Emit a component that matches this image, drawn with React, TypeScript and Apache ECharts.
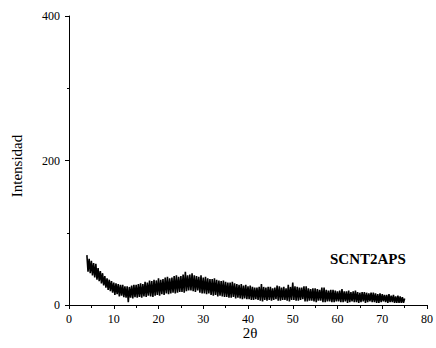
import React, { useEffect, useRef } from "react";
import * as echarts from "echarts";

const xTicks = [0, 10, 20, 30, 40, 50, 60, 70, 80];
const yTicks = [0, 200, 400];
const sampleLabel = "SCNT2APS";
const xTitle = "2θ";
const yTitle = "Intensidad";

// scan: 2θ from 4° to 75° in 0.25° steps
const scanStart = 4;
const scanStep = 0.25;

// one row per degree (x.00, x.25, x.50, x.75)
const intensity = [
  69, 46, 64, 44, // 4
  61, 41, 58, 38, // 5
  57, 35, 51, 33, // 6
  47, 30, 44, 27, // 7
  40, 24, 37, 21, // 8
  35, 19, 33, 17, // 9
  31, 14, 30, 15, // 10
  29, 12, 28, 13, // 11
  28, 11, 26, 10, // 12
  26, 4, 25, 10, // 13
  27, 9, 28, 11, // 14
  28, 10, 29, 11, // 15
  30, 10, 29, 12, // 16
  32, 11, 31, 13, // 17
  34, 12, 33, 11, // 18
  35, 13, 34, 14, // 19
  37, 13, 35, 15, // 20
  36, 14, 38, 16, // 21
  39, 15, 37, 16, // 22
  38, 17, 40, 16, // 23
  41, 17, 39, 18, // 24
  40, 18, 42, 17, // 25
  46, 19, 41, 20, // 26
  42, 20, 44, 19, // 27
  41, 18, 40, 20, // 28
  39, 17, 41, 16, // 29
  38, 16, 39, 15, // 30
  37, 16, 36, 14, // 31
  36, 13, 37, 14, // 32
  35, 12, 34, 13, // 33
  33, 12, 34, 11, // 34
  32, 11, 31, 10, // 35
  31, 10, 32, 11, // 36
  30, 9, 29, 10, // 37
  28, 9, 29, 8, // 38
  27, 9, 28, 8, // 39
  26, 8, 27, 7, // 40
  25, 7, 24, 8, // 41
  24, 7, 25, 6, // 42
  29, 5, 25, 7, // 43
  24, 6, 25, 7, // 44
  25, 6, 23, 7, // 45
  24, 8, 27, 6, // 46
  26, 6, 24, 7, // 47
  25, 7, 23, 6, // 48
  28, 5, 25, 7, // 49
  31, 7, 26, 6, // 50
  25, 6, 24, 7, // 51
  24, 8, 26, 5, // 52
  26, 5, 23, 6, // 53
  22, 6, 23, 5, // 54
  23, 4, 22, 6, // 55
  21, 6, 24, 4, // 56
  24, 4, 21, 5, // 57
  20, 5, 21, 4, // 58
  21, 4, 20, 5, // 59
  19, 5, 20, 4, // 60
  22, 4, 19, 5, // 61
  19, 3, 20, 4, // 62
  18, 5, 19, 4, // 63
  20, 4, 18, 3, // 64
  17, 4, 18, 5, // 65
  18, 3, 17, 4, // 66
  16, 5, 17, 4, // 67
  17, 4, 16, 3, // 68
  15, 3, 16, 4, // 69
  15, 5, 14, 4, // 70
  14, 3, 15, 4, // 71
  13, 4, 14, 3, // 72
  12, 3, 13, 3, // 73
  12, 3, 11, 3, // 74
  9, // 75
];

export default function App() {
  const ref = useRef<HTMLDivElement>(null);
  useEffect(() => {
    if (!ref.current) return;
    const chart = echarts.init(ref.current, null, { renderer: "svg" });
    const data = intensity.map((v, i) => [scanStart + i * scanStep, v]);
    const font = "Liberation Serif";
    chart.setOption({
      animation: false,
      backgroundColor: "#ffffff",
      grid: { left: 69, right: 7, top: 16, bottom: 43, containLabel: false },
      xAxis: {
        type: "value",
        min: xTicks[0],
        max: xTicks[xTicks.length - 1],
        interval: 10,
        axisLine: { show: true, onZero: false, lineStyle: { color: "#000", width: 1 } },
        axisTick: { show: true, inside: false, length: 4, lineStyle: { color: "#000" } },
        minorTick: { show: true, splitNumber: 2, length: 3, lineStyle: { color: "#000" } },
        splitLine: { show: false },
        axisLabel: { color: "#000", fontFamily: font, fontSize: 12, margin: 8 },
      },
      yAxis: {
        type: "value",
        min: yTicks[0],
        max: yTicks[yTicks.length - 1],
        interval: 200,
        axisLine: { show: true, lineStyle: { color: "#000", width: 1 } },
        axisTick: { show: true, inside: false, length: 4, lineStyle: { color: "#000" } },
        minorTick: { show: true, splitNumber: 2, length: 2, lineStyle: { color: "#000" } },
        splitLine: { show: false },
        axisLabel: { color: "#000", fontFamily: font, fontSize: 12, margin: 9 },
      },
      graphic: [
        {
          type: "text",
          x: 17,
          y: 166,
          rotation: Math.PI / 2,
          style: {
            text: yTitle,
            fontFamily: font,
            fontSize: 15,
            fill: "#000",
            align: "center",
            verticalAlign: "middle",
          },
        },
        {
          type: "text",
          x: 250,
          y: 333,
          style: {
            text: xTitle,
            fontFamily: font,
            fontSize: 15,
            fill: "#000",
            align: "center",
            verticalAlign: "middle",
          },
        },
        {
          type: "text",
          x: 330,
          y: 259,
          style: {
            text: sampleLabel,
            fontFamily: font,
            fontSize: 15,
            fontWeight: "bold",
            fill: "#000",
            align: "left",
            verticalAlign: "middle",
          },
        },
      ],
      series: [
        {
          type: "line",
          data,
          showSymbol: false,
          symbol: "none",
          lineStyle: { color: "#000", width: 1.6 },
          itemStyle: { color: "#000" },
        },
      ],
    });
    return () => chart.dispose();
  }, []);
  return <div ref={ref} style={{ width: 436, height: 348, position: "absolute", left: 0, top: 0 }} />;
}
